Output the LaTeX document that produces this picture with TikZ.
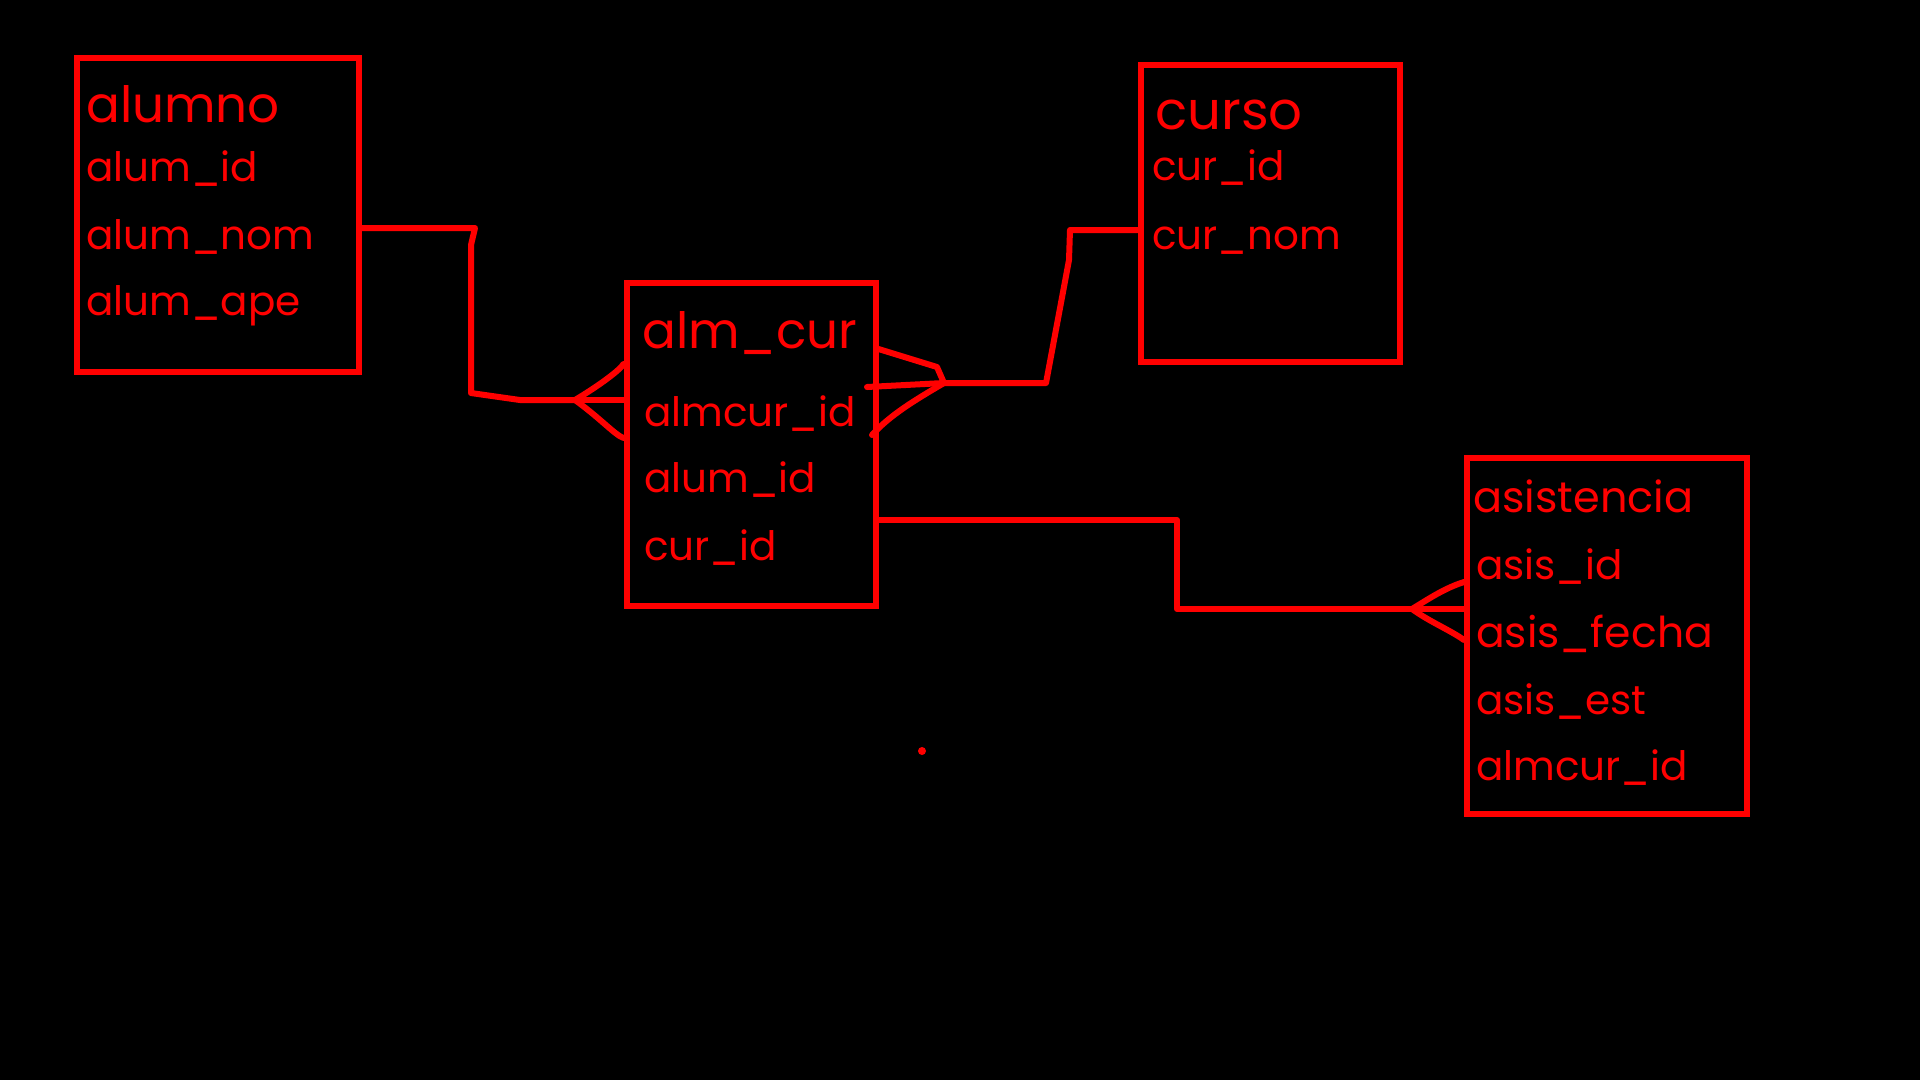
\documentclass[tikz,border=0pt]{standalone}
\usepackage{fontspec}
\setmainfont{Poppins}
\usetikzlibrary{positioning,calc}
\definecolor{erRed}{HTML}{FF0000}
\definecolor{erBack}{HTML}{000000}

\begin{document}
\begin{tikzpicture}[x=1pt,y=-1pt,
        tbl/.style={draw=erRed,line width=6pt,inner sep=0pt},
        ttl/.style={text=erRed,inner sep=0pt,anchor=base west,font=\fontsize{50}{50}\selectfont},
        fld/.style={text=erRed,inner sep=0pt,anchor=base west,font=\fontsize{40.5}{40.5}\selectfont},
        rel/.style={draw=erRed,line width=6pt,line join=round,line cap=round}]
  \fill[erBack] (0,0) rectangle (1920,1080);
  \useasboundingbox (0,0) rectangle (1920,1080);

  \node[tbl,minimum width=282pt,minimum height=314pt] (alumno) at (218,215) {};
  \node[tbl,minimum width=259pt,minimum height=297pt] (curso) at (1270,213) {};
  \node[tbl,minimum width=249pt,minimum height=323pt] (almcur) at (751,444) {};
  \node[tbl,minimum width=280pt,minimum height=356pt] (asis) at (1607,636) {};

  \node[ttl] (alumnoT) at (86,122) {alumno};
  \node[below=59pt of alumnoT.base west,fld] (alumId) {alum\_id};
  \node[below=68pt of alumId.base west,fld] (alumNom) {alum\_nom};
  \node[below=66pt of alumNom.base west,fld] (alumApe) {alum\_ape};

  \node[ttl,font=\fontsize{53}{53}\selectfont] (cursoT) at (1155,129) {curso};
  \node[below=51pt of cursoT.base west,fld,xshift=-3pt] (curId) {cur\_id};
  \node[below=69pt of curId.base west,fld] (curNom) {cur\_nom};

  \node[ttl] (almcurT) at (642,348) {alm\_cur};
  \node[below=78pt of almcurT.base west,fld,xshift=2pt] (acId) {almcur\_id};
  \node[below=66pt of acId.base west,fld] (acAlum) {alum\_id};
  \node[below=68pt of acAlum.base west,fld] (acCur) {cur\_id};

  \node[fld,font=\fontsize{43}{43}\selectfont] (asisT) at (1473,512) {asistencia};
  \node[below=67pt of asisT.base west,fld,xshift=3pt] (asisId) {asis\_id};
  \node[below=68pt of asisId.base west,fld,font=\fontsize{42.5}{42.5}\selectfont] (asisFec) {asis\_fecha};
  \node[below=67pt of asisFec.base west,fld] (asisEst) {asis\_est};
  \node[below=66pt of asisEst.base west,fld] (asisAc) {almcur\_id};

  \coordinate (kL) at (575,400);
  \coordinate (kR) at (944,383);
  \coordinate (kA) at (1412,609);
  \coordinate (a1) at (475,228);
  \coordinate (c1) at (1070,230);
  \coordinate (s1) at (1177,520);

  \draw[rel] (alumno.east |- a1) -- (a1) -- (471,245) -- (471,393) -- (520,400) -- (kL);
  \draw[rel] (kL) .. controls (600,385) and (620,370) .. (almcur.west |- 0,364);
  \draw[rel] (kL) -- (almcur.west |- kL);
  \draw[rel] (kL) .. controls (600,418) and (615,435) .. (almcur.west |- 0,438);

  \draw[rel] (almcur.east |- 0,349) -- (937,367) -- (kR);
  \draw[rel] (867,387) -- (kR);
  \draw[rel] (872,435) .. controls (890,415) and (915,400) .. (kR);
  \draw[rel] (kR) -- (1046,383) -- (1069,260) -- (c1) -- (curso.west |- c1);

  \draw[rel] (almcur.east |- s1) -- (s1) -- (1177,609) -- (kA);
  \draw[rel] (kA) .. controls (1430,598) and (1445,588) .. (asis.west |- 0,582);
  \draw[rel] (kA) -- (asis.west |- kA);
  \draw[rel] (kA) .. controls (1430,622) and (1450,630) .. (asis.west |- 0,640);

  \fill[erRed] (922,751) circle (4);
\end{tikzpicture}
\end{document}
